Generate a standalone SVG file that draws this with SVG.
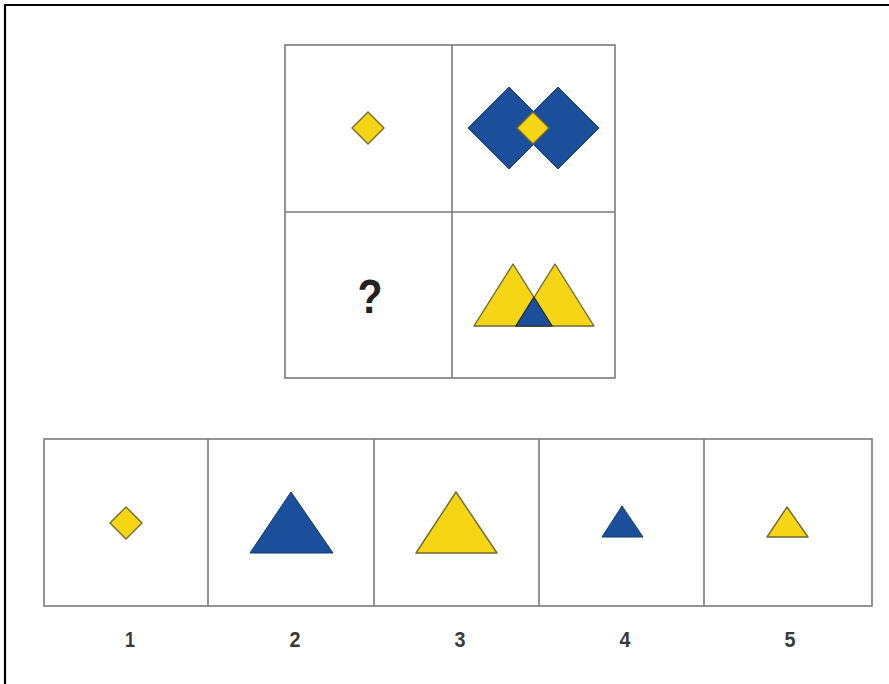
<svg xmlns="http://www.w3.org/2000/svg" width="889" height="684" viewBox="0 0 889 684">
<style>
.grid{fill:none;stroke:#7a7a7a;stroke-width:1.6}
.y{fill:#f6d514;stroke:#6e6a30;stroke-width:1.4;stroke-linejoin:round}
.b{fill:#1b4f9b;stroke:#1a3a6a;stroke-width:1}
.lbl{font-family:"Liberation Sans",Arial,sans-serif;font-size:22px;font-weight:bold;fill:#3a3a3a;text-anchor:middle}
</style>
<rect width="889" height="684" fill="#fff"/>
<path d="M5,690 V5 H895" fill="none" stroke="#000" stroke-width="2.2"/>

<g id="matrix">
<rect class="grid" x="285" y="45" width="330" height="333"/>
<line class="grid" x1="452" y1="45" x2="452" y2="378"/>
<line class="grid" x1="285" y1="212" x2="615" y2="212"/>
</g>

<g id="cell-tl">
<polygon class="y" points="368,112 384,128 368,144 352,128"/>
</g>

<g id="cell-tr">
<polygon class="b" points="509,87 550,128 509,169 468,128"/>
<polygon class="b" points="558,87 599,128 558,169 517,128"/>
<polygon class="y" points="533,112 549,128 533,144 517,128"/>
</g>

<g id="cell-bl">
<text x="370" y="313" font-family="Liberation Sans,Arial,sans-serif" font-weight="bold" font-size="48" fill="#222" text-anchor="middle" textLength="25" lengthAdjust="spacingAndGlyphs">?</text>
</g>

<g id="cell-br">
<polygon class="y" points="513,264 552,326 474,326"/>
<polygon class="y" points="555,264 594,326 516,326"/>
<polygon fill="#1b4f9b" stroke="#2a2a2a" stroke-width="1.2" points="534,297 552,326 516,326"/>
</g>

<g id="options">
<rect class="grid" x="44" y="439" width="828" height="167"/>
<line class="grid" x1="208" y1="439" x2="208" y2="606"/>
<line class="grid" x1="374" y1="439" x2="374" y2="606"/>
<line class="grid" x1="539" y1="439" x2="539" y2="606"/>
<line class="grid" x1="704" y1="439" x2="704" y2="606"/>
</g>

<g id="opt1">
<polygon class="y" points="126,507 142,523 126,539 110,523"/>
<text class="lbl" x="130" y="647" textLength="10" lengthAdjust="spacingAndGlyphs">1</text>
</g>
<g id="opt2">
<polygon class="b" points="291,492 333,553 250,553"/>
<text class="lbl" x="295" y="647" textLength="11" lengthAdjust="spacingAndGlyphs">2</text>
</g>
<g id="opt3">
<polygon class="y" points="456,492 497,553 416,553"/>
<text class="lbl" x="460" y="647" textLength="11" lengthAdjust="spacingAndGlyphs">3</text>
</g>
<g id="opt4">
<polygon class="b" points="622,506 643,537 602,537"/>
<text class="lbl" x="625" y="647" textLength="11" lengthAdjust="spacingAndGlyphs">4</text>
</g>
<g id="opt5">
<polygon class="y" points="787,507 808,537 767,537"/>
<text class="lbl" x="790" y="647" textLength="11" lengthAdjust="spacingAndGlyphs">5</text>
</g>
</svg>
